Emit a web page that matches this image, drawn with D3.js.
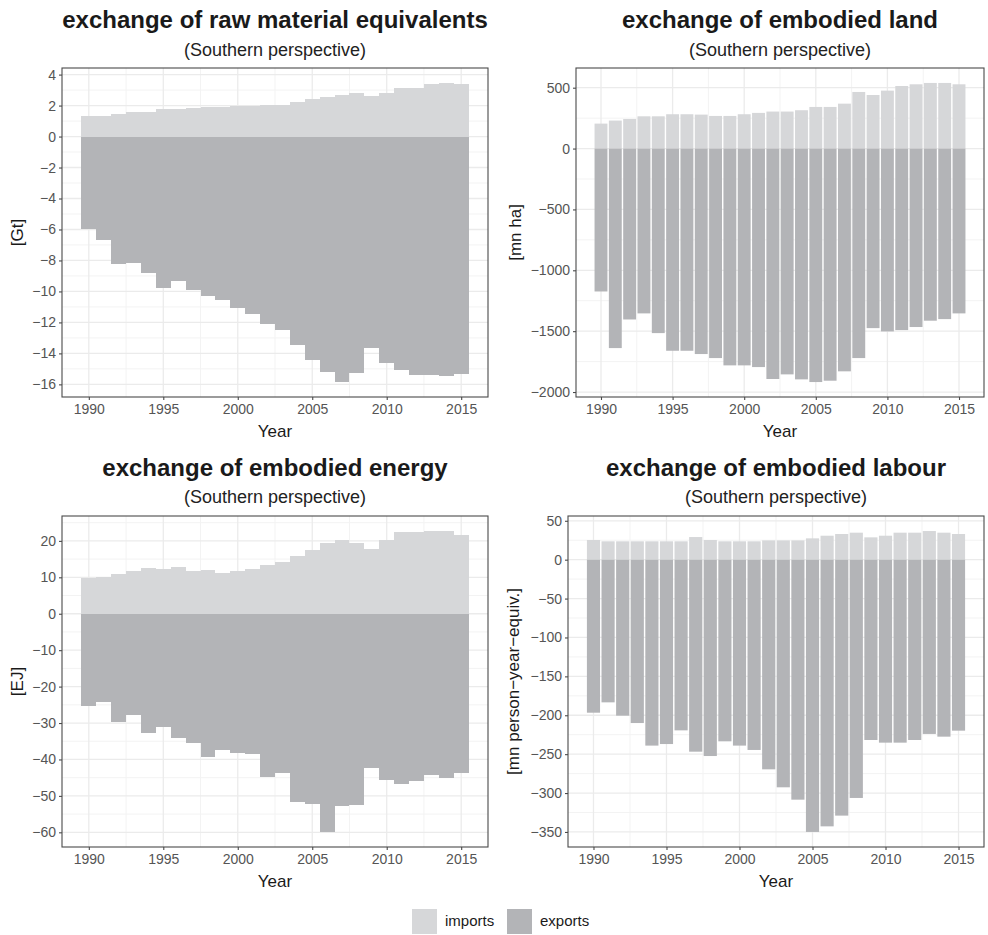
<!DOCTYPE html>
<html>
<head>
<meta charset="utf-8">
<script src="https://cdn.jsdelivr.net/npm/d3@7"></script>
<style>
  html, body { margin: 0; padding: 0; background: #ffffff; }
  svg { display: block; font-family: "Liberation Sans", Arial, sans-serif; }
</style>
</head>
<body>
<svg id="chart" width="988" height="935"></svg>
<script>
// ---------------- DATA ----------------
const years = [1990,1991,1992,1993,1994,1995,1996,1997,1998,1999,2000,2001,2002,2003,2004,2005,2006,2007,2008,2009,2010,2011,2012,2013,2014,2015];
const yearTicks = [1990,1995,2000,2005,2010,2015];

// raw material equivalents [Gt]
const rmeImports = [1.35,1.35,1.46,1.6,1.6,1.78,1.8,1.83,1.9,1.93,1.96,2.0,2.02,2.02,2.2,2.4,2.58,2.69,2.8,2.6,2.8,3.14,3.16,3.38,3.46,3.38];
const rmeExports = [-5.96,-6.71,-8.26,-8.15,-8.82,-9.78,-9.31,-9.89,-10.3,-10.56,-11.05,-11.46,-12.13,-12.52,-13.46,-14.43,-15.2,-15.85,-15.27,-13.68,-14.62,-15.1,-15.38,-15.38,-15.46,-15.35];
const rmeTicks = [4,2,0,-2,-4,-6,-8,-10,-12,-14,-16];

// embodied land [mn ha]
const landImports = [205,230,243,265,265,282,282,279,268,268,282,293,304,304,315,342,342,369,465,440,476,514,528,539,539,528];
const landExports = [-1174,-1639,-1404,-1354,-1516,-1661,-1661,-1688,-1721,-1781,-1781,-1795,-1893,-1855,-1896,-1918,-1907,-1830,-1721,-1475,-1502,-1491,-1466,-1414,-1401,-1354];
const landTicks = [500,0,-500,-1000,-1500,-2000];

// embodied energy [EJ]
const energyImports = [9.7,10.0,10.8,11.7,12.5,12.4,12.9,11.7,12.1,11.2,11.7,12.4,13.3,14.2,15.8,17.5,19.5,20.3,19.5,17.9,20.3,22.4,22.5,22.7,22.7,21.5];
const energyExports = [-25.2,-24.1,-29.8,-27.9,-32.8,-31.2,-34.1,-35.4,-39.2,-37.3,-38.1,-38.6,-44.7,-43.6,-51.8,-52.1,-59.9,-52.9,-52.5,-42.3,-45.6,-46.8,-46.0,-44.4,-45.0,-43.7];
const energyTicks = [20,10,0,-10,-20,-30,-40,-50,-60];

// embodied labour [mn person-year-equiv.]
const labourImports = [25.3,23.6,23.6,23.6,23.6,23.6,23.6,29.1,25.3,23.6,23.6,23.6,24.8,24.8,24.8,27.4,30.8,33.0,34.7,28.7,30.8,34.7,34.7,36.8,34.7,33.0];
const labourExports = [-196.7,-183.4,-200.5,-210,-239,-237,-219.4,-246.8,-252.4,-233.5,-239,-244.6,-269.5,-292.6,-308.5,-350,-342.8,-329,-306.3,-231.8,-235.2,-235.2,-231.8,-224,-227.5,-219.8];
const labourTicks = [50,0,-50,-100,-150,-200,-250,-300,-350];

const legendLabels = ["imports","exports"];

// ---------------- STYLE ----------------
const colImports = "#d6d7d9";
const colExports = "#b3b4b7";
const gridMajor = "#ebebeb";
const gridMinor = "#f3f3f3";
const borderCol = "#4a4a4a";
const tickTextCol = "#555555";

const svg = d3.select("#chart");

const panels = [
  { title: "exchange of raw material equivalents", ylab: "[Gt]", imp: rmeImports, exp: rmeExports, ticks: rmeTicks,
    box: {x0: 62, x1: 488, y0: 68, y1: 397}, barW: 1.0, titleY: 28, subY: 56, ylabX: 17, yearY: 437 },
  { title: "exchange of embodied land", ylab: "[mn ha]", imp: landImports, exp: landExports, ticks: landTicks,
    box: {x0: 576, x1: 984, y0: 68, y1: 397}, barW: 0.9, titleY: 28, subY: 56, ylabX: 515, yearY: 437 },
  { title: "exchange of embodied energy", ylab: "[EJ]", imp: energyImports, exp: energyExports, ticks: energyTicks,
    box: {x0: 62, x1: 488, y0: 516, y1: 847}, barW: 1.0, titleY: 476, subY: 503, ylabX: 17, yearY: 887 },
  { title: "exchange of embodied labour", ylab: "[mn person\u2212year\u2212equiv.]", imp: labourImports, exp: labourExports, ticks: labourTicks,
    box: {x0: 568, x1: 984, y0: 516, y1: 847}, barW: 0.9, titleY: 476, subY: 503, ylabX: 513, yearY: 887 }
];

function minorBetween(ticks, lo, hi) {
  const s = ticks.slice().sort((a,b)=>a-b);
  const step = s[1]-s[0];
  const out = [];
  for (let i = 0; i < s.length - 1; i++) out.push((s[i]+s[i+1])/2);
  out.push(s[0]-step/2, s[s.length-1]+step/2);
  return out.filter(v => v > lo && v < hi);
}

panels.forEach(p => {
  const b = p.box;
  const half = p.barW / 2;
  const xmin = years[0] - half, xmax = years[years.length-1] + half;
  const xr = xmax - xmin;
  const x = d3.scaleLinear().domain([xmin - 0.05*xr, xmax + 0.05*xr]).range([b.x0, b.x1]);
  const vmin = d3.min(p.exp.concat([0])), vmax = d3.max(p.imp.concat([0]));
  const yr = vmax - vmin;
  const y = d3.scaleLinear().domain([vmin - 0.05*yr, vmax + 0.05*yr]).range([b.y1, b.y0]);

  const g = svg.append("g");

  g.append("rect").attr("x", b.x0).attr("y", b.y0).attr("width", b.x1-b.x0).attr("height", b.y1-b.y0).attr("fill", "#fff");

  // minor grid
  const xMinor = minorBetween(yearTicks, x.domain()[0], x.domain()[1]);
  const yMinor = minorBetween(p.ticks, y.domain()[0], y.domain()[1]);
  g.selectAll(".xminor").data(xMinor).join("line")
    .attr("x1", d=>x(d)).attr("x2", d=>x(d)).attr("y1", b.y0).attr("y2", b.y1)
    .attr("stroke", gridMinor).attr("stroke-width", 1);
  g.selectAll(".yminor").data(yMinor).join("line")
    .attr("y1", d=>y(d)).attr("y2", d=>y(d)).attr("x1", b.x0).attr("x2", b.x1)
    .attr("stroke", gridMinor).attr("stroke-width", 1);
  // major grid
  g.selectAll(".xmajor").data(yearTicks).join("line")
    .attr("x1", d=>x(d)).attr("x2", d=>x(d)).attr("y1", b.y0).attr("y2", b.y1)
    .attr("stroke", gridMajor).attr("stroke-width", 1.3);
  g.selectAll(".ymajor").data(p.ticks).join("line")
    .attr("y1", d=>y(d)).attr("y2", d=>y(d)).attr("x1", b.x0).attr("x2", b.x1)
    .attr("stroke", gridMajor).attr("stroke-width", 1.3);

  // bars
  const bars = g.append("g").attr("shape-rendering", p.barW >= 1 ? "crispEdges" : "auto");
  bars.selectAll(".imp").data(years).join("rect")
    .attr("x", d => x(d - half)).attr("width", d => x(d + half) - x(d - half))
    .attr("y", (d,i) => y(p.imp[i])).attr("height", (d,i) => y(0) - y(p.imp[i]))
    .attr("fill", colImports);
  bars.selectAll(".exp").data(years).join("rect")
    .attr("x", d => x(d - half)).attr("width", d => x(d + half) - x(d - half))
    .attr("y", y(0)).attr("height", (d,i) => y(p.exp[i]) - y(0))
    .attr("fill", colExports);

  // border
  g.append("rect").attr("x", b.x0).attr("y", b.y0).attr("width", b.x1-b.x0).attr("height", b.y1-b.y0)
    .attr("fill", "none").attr("stroke", borderCol).attr("stroke-width", 1.1);

  // axes
  const xAxis = d3.axisBottom(x).tickValues(yearTicks).tickFormat(d3.format("d")).tickSizeOuter(0).tickSizeInner(3).tickPadding(4);
  const gx = g.append("g").attr("transform", `translate(0,${b.y1})`).call(xAxis);
  const yAxis = d3.axisLeft(y).tickValues(p.ticks).tickFormat(d => d3.format("d")(d)).tickSizeOuter(0).tickSizeInner(3).tickPadding(3);
  const gy = g.append("g").attr("transform", `translate(${b.x0},0)`).call(yAxis);
  [gx, gy].forEach(a => {
    a.select(".domain").remove();
    a.selectAll(".tick line").attr("stroke", borderCol).attr("stroke-width", 1.1);
    a.selectAll(".tick text").attr("fill", tickTextCol).style("font-size", "14px")
      .style("font-family", "'Liberation Sans', Arial, sans-serif");
  });

  const cx = (b.x0 + b.x1) / 2;
  g.append("text").attr("x", cx).attr("y", p.titleY).attr("text-anchor", "middle")
    .style("font-size", "24px").style("font-weight", "bold").attr("fill", "#1a1a1a").text(p.title);
  g.append("text").attr("x", cx).attr("y", p.subY).attr("text-anchor", "middle")
    .style("font-size", "18px").attr("fill", "#222").text("(Southern perspective)");
  g.append("text").attr("x", cx).attr("y", p.yearY).attr("text-anchor", "middle")
    .style("font-size", "17px").attr("fill", "#1a1a1a").text("Year");
  const cy = (b.y0 + b.y1) / 2;
  g.append("text").attr("transform", `translate(${p.ylabX},${cy}) rotate(-90)`)
    .attr("text-anchor", "middle").attr("dy", "0.35em")
    .style("font-size", "17px").attr("fill", "#1a1a1a").text(p.ylab);
});

// legend
const legCols = [colImports, colExports];
const legX = [412, 507];
const lg = svg.append("g");
legendLabels.forEach((lab, i) => {
  lg.append("rect").attr("x", legX[i]).attr("y", 909).attr("width", 25).attr("height", 25).attr("fill", legCols[i]);
  lg.append("text").attr("x", legX[i] + 33).attr("y", 926).style("font-size", "15px").attr("fill", "#1a1a1a").text(lab);
});
</script>
</body>
</html>
